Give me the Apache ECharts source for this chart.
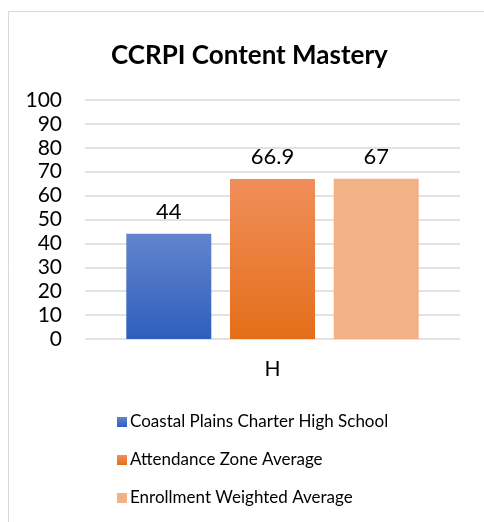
<!DOCTYPE html>
<html>
<head>
    <meta charset="utf-8">
    <title>CCRPI Content Mastery</title>
    <script src="https://cdn.jsdelivr.net/npm/echarts@6/dist/echarts.min.js"></script>
    <style>
        html, body { margin: 0; padding: 0; background: #fff; }
        #chart { width: 484px; height: 522px; }
    </style>
</head>
<body>
<div id="chart"></div>
<script>
    var categories = ['H'];
    var seriesNames = ['Coastal Plains Charter High School', 'Attendance Zone Average', 'Enrollment Weighted Average'];
    var schoolValues = [44];
    var zoneValues = [66.9];
    var weightedValues = [67];
    var yTicks = [0, 10, 20, 30, 40, 50, 60, 70, 80, 90, 100];

    var font = 'Lato, "Open Sans", sans-serif';

    function grad(top, bottom) {
        return new echarts.graphic.LinearGradient(0, 0, 0, 1, [
            { offset: 0, color: top },
            { offset: 1, color: bottom }
        ]);
    }

    var label = {
        show: true,
        position: 'top',
        distance: 11,
        color: '#000',
        fontSize: 22,
        fontFamily: font
    };

    var myChart = echarts.init(document.getElementById('chart'));
    var option = {
        animation: false,
        graphic: [{
            type: 'rect',
            shape: { x: 8.5, y: 11.5, width: 490, height: 520 },
            style: { fill: 'none', stroke: '#d9d9d9', lineWidth: 1 },
            silent: true
        }],
        title: {
            text: 'CCRPI Content Mastery',
            left: 106,
            top: 38,
            textStyle: { fontSize: 26, fontWeight: 'bold', color: '#000', fontFamily: font }
        },
        legend: {
            orient: 'vertical',
            left: 112,
            top: 407,
            itemGap: 18,
            itemWidth: 10,
            itemHeight: 10,
            icon: 'rect',
            textStyle: { fontSize: 17, lineHeight: 20, color: '#000', fontFamily: font, padding: [0, 0, 0, -2] },
            data: seriesNames
        },
        grid: { left: 85, right: 24, top: 100, bottom: 183, containLabel: false },
        xAxis: {
            type: 'category',
            data: categories,
            axisLine: { show: false },
            axisTick: { show: false },
            axisLabel: { color: '#000', fontSize: 21, fontFamily: font, margin: 20 }
        },
        yAxis: {
            type: 'value',
            min: yTicks[0],
            max: yTicks[yTicks.length - 1],
            interval: 10,
            axisLine: { show: false },
            axisTick: { show: false },
            axisLabel: { color: '#000', fontSize: 21, fontFamily: font, margin: 23 },
            splitLine: { lineStyle: { color: '#d9d9d9', width: 1.5 } }
        },
        series: [
            {
                name: seriesNames[0], type: 'bar', data: schoolValues,
                barWidth: 85, barGap: '22%',
                itemStyle: { color: grad('#6384cd', '#2e5fbc') },
                label: label
            },
            {
                name: seriesNames[1], type: 'bar', data: zoneValues,
                barWidth: 85, barGap: '22%',
                itemStyle: { color: grad('#f08e5b', '#e46e18') },
                label: label
            },
            {
                name: seriesNames[2], type: 'bar', data: weightedValues,
                barWidth: 85, barGap: '22%',
                itemStyle: { color: '#f3b285' },
                label: label
            }
        ]
    };
    myChart.setOption(option);
</script>
</body>
</html>
